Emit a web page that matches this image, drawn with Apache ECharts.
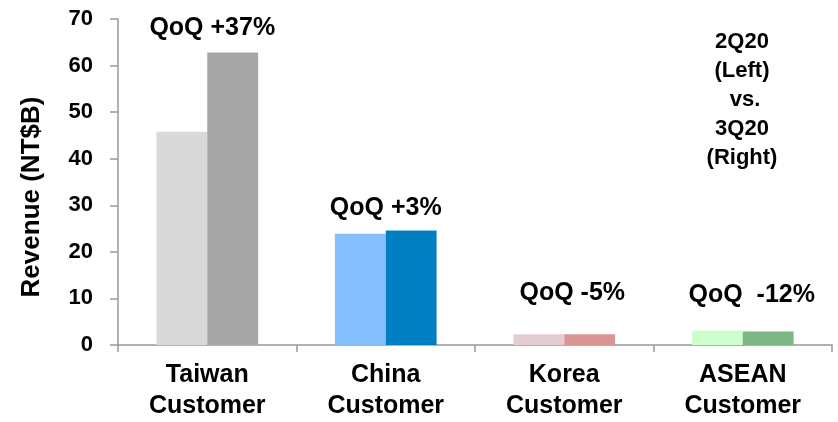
<!DOCTYPE html>
<html>
<head>
<meta charset="utf-8">
<script src="https://cdn.jsdelivr.net/npm/echarts@6/dist/echarts.min.js"></script>
<style>
html,body{margin:0;padding:0;background:#fff;}
#main{width:838px;height:422px;}
</style>
</head>
<body>
<div id="main"></div>
<script>
// ---- data ----
var categories = ['Taiwan\nCustomer', 'China\nCustomer', 'Korea\nCustomer', 'ASEAN\nCustomer'];
var rev2Q20 = [45.8, 23.9, 2.3, 3.1];
var rev3Q20 = [62.8, 24.6, 2.3, 2.9];
var qoqLabels = ['QoQ +37%', 'QoQ +3%', 'QoQ -5%', 'QoQ  -12%'];
var qoqLabelY = [68.1, 29.3, 11.1, 10.7];
var yTicks = [0, 10, 20, 30, 40, 50, 60, 70];

// ---- styles ----
var colors2Q20 = ['#d9d9d9', '#86bfff', '#e4cdd0', '#ccffcc'];
var colors3Q20 = ['#a6a6a6', '#0080c2', '#d99594', '#7ab883'];
var qoqOffsetX = [5, 0, 8, 9];
var FONT = '"Liberation Sans", Arial, sans-serif';

var chart = echarts.init(document.getElementById('main'), null, {renderer: 'canvas'});

var option = {
  animation: false,
  backgroundColor: '#ffffff',
  grid: {left: 118, right: 6, top: 19, bottom: 76.3, containLabel: false},
  xAxis: {
    type: 'category',
    data: categories,
    boundaryGap: true,
    axisLine: {show: true, lineStyle: {color: '#999999', width: 1.5}},
    axisTick: {show: true, alignWithLabel: false, length: 7, lineStyle: {color: '#999999', width: 1.5}},
    axisLabel: {
      color: '#000', fontFamily: FONT, fontWeight: 'bold', fontSize: 25,
      lineHeight: 31, margin: 15, interval: 0
    },
    splitLine: {show: false}
  },
  yAxis: {
    type: 'value',
    min: yTicks[0],
    max: yTicks[yTicks.length - 1],
    interval: 10,
    name: 'Revenue (NT$B)',
    nameLocation: 'middle',
    nameRotate: 90,
    nameGap: 73,
    nameTextStyle: {color: '#000', fontFamily: FONT, fontWeight: 'bold', fontSize: 26, padding: [0, 30, 0, 0]},
    axisLine: {show: true, lineStyle: {color: '#999999', width: 1.5}},
    axisTick: {show: true, inside: false, length: 8, lineStyle: {color: '#999999', width: 1.5}},
    axisLabel: {color: '#000', fontFamily: FONT, fontWeight: 'bold', fontSize: 22, margin: 25},
    splitLine: {show: false}
  },
  series: [
    {
      name: '2Q20',
      type: 'bar',
      barGap: '0%',
      barCategoryGap: '43%',
      data: rev2Q20.map(function (v, i) {
        return {value: v, itemStyle: {color: colors2Q20[i]}};
      })
    },
    {
      name: '3Q20',
      type: 'bar',
      barGap: '0%',
      barCategoryGap: '43%',
      data: rev3Q20.map(function (v, i) {
        return {value: v, itemStyle: {color: colors3Q20[i]}};
      })
    },
    {
      name: 'QoQ',
      type: 'scatter',
      symbolSize: 0,
      silent: true,
      itemStyle: {color: '#000', opacity: 1},
      data: qoqLabelY.map(function (v, i) {
        return {
          value: [i, v],
          label: {
            show: true, position: 'inside', formatter: qoqLabels[i],
            offset: [qoqOffsetX[i], 0],
            color: '#000', opacity: 1, textBorderWidth: 0, textBorderColor: 'transparent',
            fontFamily: FONT, fontWeight: 'bold', fontSize: 25
          }
        };
      })
    }
  ],
  graphic: [
    {
      type: 'text',
      x: 742,
      y: 27,
      style: {
        text: '2Q20\n(Left)\n vs.\n3Q20\n(Right)',
        align: 'center',
        verticalAlign: 'top',
        fill: '#000',
        font: 'bold 22px ' + FONT,
        lineHeight: 29
      }
    }
  ]
};
chart.setOption(option);
</script>
</body>
</html>
